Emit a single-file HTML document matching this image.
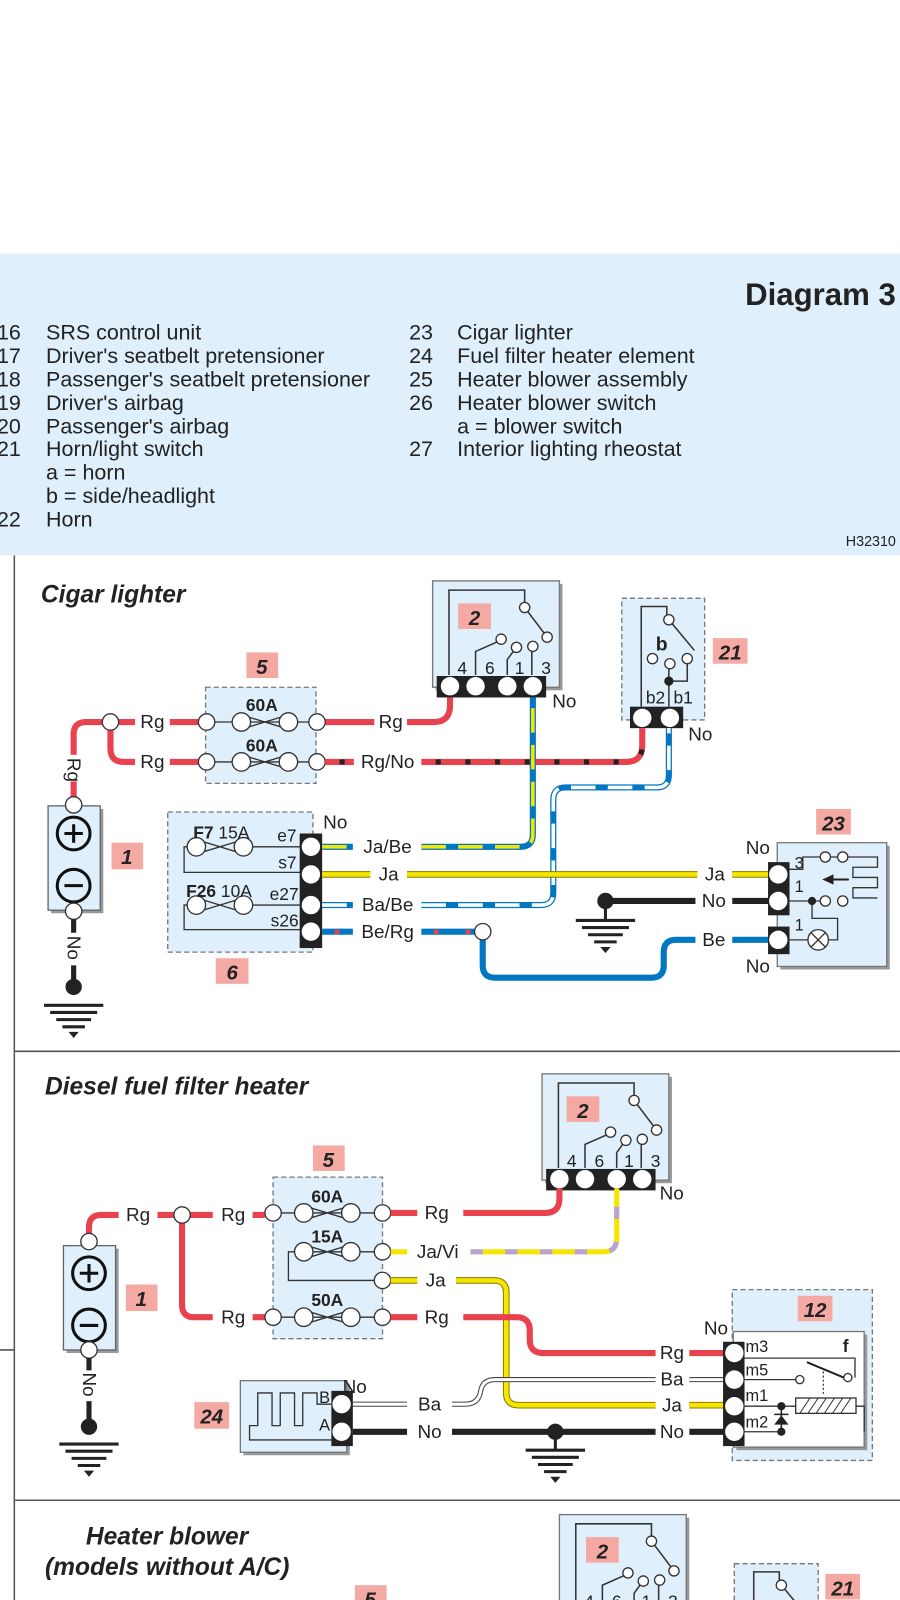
<!DOCTYPE html>
<html><head><meta charset="utf-8"><style>
html,body{margin:0;padding:0;background:#fff;}
svg{display:block;}
text{font-family:"Liberation Sans",sans-serif;fill:#222;}
.t{font-size:18.5px;}
.b{font-weight:bold;}
.pk{font-weight:bold;font-style:italic;font-size:20px;text-anchor:middle;}
.c{text-anchor:middle;}
.lg text{font-size:21px;}
</style></head><body>
<svg width="900" height="1600" viewBox="0 0 880 1564.5" xmlns="http://www.w3.org/2000/svg">
<defs>
<g id="fuse">
<path d="M0,-7 L46,7 M0,7 L46,-7" stroke="#333" stroke-width="1.3" fill="none"/>
<circle cx="0" cy="0" r="9" fill="#fff" stroke="#333" stroke-width="1.3"/>
<circle cx="46" cy="0" r="9" fill="#fff" stroke="#333" stroke-width="1.3"/>
</g>
<g id="gnd">
<path d="M-29,0 H29 M-23,7 H23 M-17,14 H17 M-11,21 H11" stroke="#222" stroke-width="3"/>
<path d="M-5,26 H5 L0,32 Z" fill="#222"/>
</g>
<g id="bat">
<rect x="3" y="3" width="51" height="102" fill="#999"/>
<rect x="0" y="0" width="51" height="102" fill="#dfeffb" stroke="#666" stroke-width="1.3"/>
<circle cx="25" cy="27" r="16" fill="none" stroke="#111" stroke-width="3"/>
<path d="M16,27 H34 M25,18 V36" stroke="#111" stroke-width="3"/>
<circle cx="25" cy="78" r="16" fill="none" stroke="#111" stroke-width="3"/>
<path d="M16,78 H34" stroke="#111" stroke-width="3"/>
</g>
<g id="relay">
<rect x="3" y="3" width="124" height="104" fill="#999"/>
<rect x="0" y="0" width="124" height="104" fill="#dfeffb" stroke="#777" stroke-width="1.3"/>
<path d="M16,92 V9 H90 V25 M90,26 L112,55 M42,92 V69 L67,58 M73,92 V77 L81,66 M97,92 V67" stroke="#333" stroke-width="1.5" fill="none"/>
<circle cx="90" cy="26" r="5" fill="#fff" stroke="#333" stroke-width="1.3"/>
<circle cx="112" cy="55" r="5" fill="#fff" stroke="#333" stroke-width="1.3"/>
<circle cx="67" cy="57" r="5" fill="#fff" stroke="#333" stroke-width="1.3"/>
<circle cx="82" cy="65" r="5" fill="#fff" stroke="#333" stroke-width="1.3"/>
<circle cx="98" cy="64" r="5" fill="#fff" stroke="#333" stroke-width="1.3"/>
<text x="29" y="91" font-size="17" class="c">4</text>
<text x="56" y="91" font-size="17" class="c">6</text>
<text x="85" y="91" font-size="17" class="c">1</text>
<text x="111" y="91" font-size="17" class="c">3</text>
<rect x="4" y="93" width="107" height="21" fill="#222"/>
<circle cx="17" cy="103" r="9" fill="#fff"/>
<circle cx="42" cy="103" r="9" fill="#fff"/>
<circle cx="73" cy="103" r="9" fill="#fff"/>
<circle cx="98" cy="103" r="9" fill="#fff"/>
</g>
</defs>

<rect x="0" y="248" width="880" height="295" fill="#dfeffb"/>
<text x="876" y="298" font-size="30.5" class="b" text-anchor="end">Diagram 3</text>
<g class="lg">
<text x="-3" y="332">16</text><text x="45" y="332">SRS control unit</text>
<text x="-3" y="355">17</text><text x="45" y="355">Driver's seatbelt pretensioner</text>
<text x="-3" y="378">18</text><text x="45" y="378">Passenger's seatbelt pretensioner</text>
<text x="-3" y="401">19</text><text x="45" y="401">Driver's airbag</text>
<text x="-3" y="424">20</text><text x="45" y="424">Passenger's airbag</text>
<text x="-3" y="446">21</text><text x="45" y="446">Horn/light switch</text>
<text x="45" y="469">a = horn</text>
<text x="45" y="492">b = side/headlight</text>
<text x="-3" y="515">22</text><text x="45" y="515">Horn</text>
<text x="400" y="332">23</text><text x="447" y="332">Cigar lighter</text>
<text x="400" y="355">24</text><text x="447" y="355">Fuel filter heater element</text>
<text x="400" y="378">25</text><text x="447" y="378">Heater blower assembly</text>
<text x="400" y="401">26</text><text x="447" y="401">Heater blower switch</text>
<text x="447" y="424">a = blower switch</text>
<text x="400" y="446">27</text><text x="447" y="446">Interior lighting rheostat</text>
</g>
<text x="876" y="534" font-size="14" text-anchor="end">H32310</text>

<path d="M14,543 V1565 M14,1028 H880 M14,1467 H880 M0,1320 H14" stroke="#555" stroke-width="1.5" fill="none"/>

<text x="40" y="589" font-size="24" class="b" font-style="italic">Cigar lighter</text>

<use href="#bat" x="47" y="788"/>
<rect x="109" y="824" width="31" height="26" fill="#f4aaa3"/><text x="124" y="845" class="pk">1</text>
<path d="M72,779 V764 M72,738 V718 Q72,706 84,706 H100" stroke="#e8424f" stroke-width="6" fill="none"/>
<text transform="translate(66,741) rotate(90)" class="t">Rg</text>
<circle cx="72" cy="787" r="8" fill="#fff" stroke="#333" stroke-width="1.3"/>
<circle cx="72" cy="891" r="8" fill="#fff" stroke="#333" stroke-width="1.3"/>
<path d="M72,899 V912 M72,944 V964" stroke="#222" stroke-width="5"/>
<text transform="translate(66,915) rotate(90)" class="t">No</text>
<circle cx="72" cy="965" r="8" fill="#222"/>
<use href="#gnd" x="72" y="983"/>

<rect x="201" y="672" width="108" height="94" fill="#dfeffb" stroke="#777" stroke-width="1.3" stroke-dasharray="5,3"/>
<rect x="241" y="638" width="31" height="25" fill="#f4aaa3"/><text x="256" y="659" class="pk">5</text>
<text x="256" y="695" font-size="17" class="b c">60A</text>
<text x="256" y="735" font-size="17" class="b c">60A</text>
<path d="M202,706 H310 M202,745 H310" stroke="#333" stroke-width="1.3"/>
<use href="#fuse" x="236" y="706"/><use href="#fuse" x="236" y="745"/>
<path d="M116,706 H132 M166,706 H194 M318,706 H366 M398,706 H424 Q440,706 440,690 V682" stroke="#e8424f" stroke-width="6" fill="none"/>
<path d="M108,714 V732 Q108,745 121,745 H132 M166,745 H194" stroke="#e8424f" stroke-width="6" fill="none"/>
<text x="149" y="712" class="t c">Rg</text><text x="149" y="751" class="t c">Rg</text>
<text x="382" y="712" class="t c">Rg</text>
<circle cx="108" cy="706" r="8" fill="#fff" stroke="#333" stroke-width="1.3"/>
<circle cx="202" cy="706" r="8" fill="#fff" stroke="#333" stroke-width="1.3"/>
<circle cx="310" cy="706" r="8" fill="#fff" stroke="#333" stroke-width="1.3"/>
<circle cx="202" cy="745" r="8" fill="#fff" stroke="#333" stroke-width="1.3"/>
<circle cx="310" cy="745" r="8" fill="#fff" stroke="#333" stroke-width="1.3"/>

<use href="#relay" x="423" y="568"/>
<rect x="448" y="590" width="32" height="25" fill="#f4aaa3"/><text x="464" y="611" class="pk">2</text>
<text x="540" y="692" class="t">No</text>

<rect x="608" y="585" width="81" height="119" fill="#dfeffb" stroke="#777" stroke-width="1.3" stroke-dasharray="5,3"/>
<path d="M627,691 V593 H652 V604 M654,606 L679,636 M654,691 V649 M654,666 H672 V646" stroke="#333" stroke-width="1.5" fill="none"/>
<circle cx="654" cy="606" r="5" fill="#fff" stroke="#333" stroke-width="1.3"/>
<circle cx="638" cy="644" r="5" fill="#fff" stroke="#333" stroke-width="1.3"/>
<circle cx="655" cy="649" r="5" fill="#fff" stroke="#333" stroke-width="1.3"/>
<circle cx="672" cy="644" r="5" fill="#fff" stroke="#333" stroke-width="1.3"/>
<circle cx="654" cy="666" r="4.5" fill="#222"/>
<text x="647" y="636" font-size="19" class="b c">b</text>
<text x="641" y="688" font-size="17" class="c">b2</text><text x="668" y="688" font-size="17" class="c">b1</text>
<rect x="616" y="691" width="52" height="21" fill="#222"/>
<circle cx="628" cy="702" r="9" fill="#fff"/><circle cx="655" cy="702" r="9" fill="#fff"/>
<text x="673" y="724" class="t">No</text>
<rect x="697" y="624" width="34" height="25" fill="#f4aaa3"/><text x="714" y="645" class="pk">21</text>

<path d="M318,745 H346 M412,745 H612 Q628,745 628,729 V712" stroke="#e8424f" stroke-width="6" fill="none"/>
<path d="M318,745 H346 M412,745 H612 Q628,745 628,729 V712" stroke="#222" stroke-width="5" stroke-dasharray="5,24" stroke-dashoffset="-14" fill="none"/>
<text x="379" y="751" class="t c">Rg/No</text>

<rect x="164" y="794" width="142" height="137" fill="#dfeffb" stroke="#777" stroke-width="1.3" stroke-dasharray="5,3"/>
<path d="M235,828 H294 M194,828 H180 V853 H294 M235,885 H294 M194,885 H180 V909 H294" stroke="#333" stroke-width="1.3" fill="none"/>
<use href="#fuse" x="192" y="828"/><use href="#fuse" x="192" y="885"/>
<text x="189" y="820" font-size="17"><tspan class="b">F7</tspan> 15A</text>
<text x="290" y="823" font-size="17" text-anchor="end">e7</text>
<text x="290" y="849" font-size="17" text-anchor="end">s7</text>
<text x="182" y="877" font-size="17"><tspan class="b">F26</tspan> 10A</text>
<text x="292" y="880" font-size="17" text-anchor="end">e27</text>
<text x="292" y="906" font-size="17" text-anchor="end">s26</text>
<rect x="293" y="815" width="22" height="112" fill="#222"/>
<circle cx="304" cy="828" r="9" fill="#fff"/><circle cx="304" cy="855" r="9" fill="#fff"/>
<circle cx="304" cy="885" r="9" fill="#fff"/><circle cx="304" cy="911" r="9" fill="#fff"/>
<text x="316" y="810" class="t">No</text>
<rect x="211" y="937" width="32" height="25" fill="#f4aaa3"/><text x="227" y="958" class="pk">6</text>

<path d="M315,828 H345 M412,828 H509 Q521,828 521,816 V682" stroke="#0077c0" stroke-width="6" fill="none"/>
<path d="M315,828 H345 M412,828 H509 Q521,828 521,816 V682" stroke="#f5e600" stroke-width="3.5" stroke-dasharray="24,12" fill="none"/>
<text x="379" y="834" class="t c">Ja/Be</text>
<path d="M315,885 H345 M412,885 H529 Q541,885 541,873 V782 Q541,770 553,770 H642 Q654,770 654,758 V712" stroke="#0077c0" stroke-width="6" fill="none"/>
<path d="M315,885 H345 M412,885 H529 Q541,885 541,873 V782 Q541,770 553,770 H642 Q654,770 654,758 V712" stroke="#fff" stroke-width="3.5" stroke-dasharray="24,12" fill="none"/>
<text x="379" y="891" class="t c">Ba/Be</text>
<path d="M315,855 H362 M398,855 H682 M716,855 H756" stroke="#8a7a00" stroke-width="6.5" fill="none"/>
<path d="M315,855 H362 M398,855 H682 M716,855 H756" stroke="#f5e600" stroke-width="4.5" fill="none"/>
<text x="380" y="861" class="t c">Ja</text><text x="699" y="861" class="t c">Ja</text>
<path d="M315,911 H345 M412,911 H464 M472,919 V944 Q472,956 484,956 H637 Q649,956 649,944 V931 Q649,919 661,919 H680 M716,919 H756" stroke="#0077c0" stroke-width="6" fill="none"/>
<path d="M315,911 H345 M412,911 H464" stroke="#e8424f" stroke-width="4" stroke-dasharray="5,26" stroke-dashoffset="-12" fill="none"/>
<text x="379" y="917" class="t c">Be/Rg</text><text x="698" y="925" class="t c">Be</text>
<circle cx="472" cy="911" r="8" fill="#fff" stroke="#333" stroke-width="1.3"/>
<path d="M592,881 H680 M716,881 H756" stroke="#222" stroke-width="6" fill="none"/>
<text x="698" y="887" class="t c">No</text>
<circle cx="592" cy="881" r="8" fill="#222"/><path d="M592,881 V900" stroke="#222" stroke-width="3"/>
<use href="#gnd" x="592" y="900"/>

<rect x="763" y="827" width="107" height="121" fill="#999"/>
<rect x="760" y="824" width="107" height="121" fill="#dfeffb" stroke="#777" stroke-width="1.3"/>
<path d="M772,850 H785 V838 H802 M812,838 H858 V848 H834 V858 H858 V868 H834 V878 H858 M772,881 H802 M794,881 V898 H819 V919 H810 M772,919 H790" stroke="#333" stroke-width="1.3" fill="none"/>
<path d="M812,860 H830" stroke="#222" stroke-width="2"/><path d="M804,860 L815,855 L815,865 Z" fill="#222"/>
<circle cx="807" cy="838" r="5" fill="#fff" stroke="#333" stroke-width="1.3"/>
<circle cx="824" cy="838" r="5" fill="#fff" stroke="#333" stroke-width="1.3"/>
<circle cx="807" cy="881" r="5" fill="#fff" stroke="#333" stroke-width="1.3"/>
<circle cx="824" cy="881" r="5" fill="#fff" stroke="#333" stroke-width="1.3"/>
<circle cx="794" cy="881" r="4" fill="#222"/>
<circle cx="800" cy="919" r="10" fill="#fff" stroke="#333" stroke-width="1.3"/>
<path d="M793,912 L807,926 M807,912 L793,926" stroke="#333" stroke-width="1.3"/>
<text x="777" y="849" font-size="16">3</text><text x="777" y="872" font-size="16">1</text><text x="777" y="910" font-size="16">1</text>
<rect x="751" y="843" width="21" height="52" fill="#222"/>
<rect x="751" y="906" width="21" height="27" fill="#222"/>
<circle cx="761" cy="855" r="9" fill="#fff"/><circle cx="761" cy="881" r="9" fill="#fff"/><circle cx="761" cy="919" r="9" fill="#fff"/>
<text x="741" y="835" class="t c">No</text><text x="741" y="951" class="t c">No</text>
<rect x="798" y="791" width="34" height="25" fill="#f4aaa3"/><text x="815" y="812" class="pk">23</text>

<text x="44" y="1070" font-size="24" class="b" font-style="italic">Diesel fuel filter heater</text>
<use href="#bat" x="62" y="1218"/>
<rect x="123" y="1256" width="31" height="26" fill="#f4aaa3"/><text x="138" y="1277" class="pk">1</text>
<path d="M87,1210 V1200 Q87,1188 99,1188 H116 M154,1188 H170 M186,1188 H208 M247,1188 H259" stroke="#e8424f" stroke-width="6" fill="none"/>
<path d="M178,1196 V1276 Q178,1288 190,1288 H208 M247,1288 H259" stroke="#e8424f" stroke-width="6" fill="none"/>
<text x="135" y="1194" class="t c">Rg</text><text x="228" y="1194" class="t c">Rg</text><text x="228" y="1294" class="t c">Rg</text>
<circle cx="87" cy="1214" r="8" fill="#fff" stroke="#333" stroke-width="1.3"/>
<circle cx="87" cy="1320" r="8" fill="#fff" stroke="#333" stroke-width="1.3"/>
<circle cx="178" cy="1188" r="8" fill="#fff" stroke="#333" stroke-width="1.3"/>
<path d="M87,1328 V1340 M87,1370 V1392" stroke="#222" stroke-width="5"/>
<text transform="translate(81,1342) rotate(90)" class="t">No</text>
<circle cx="87" cy="1395" r="8" fill="#222"/>
<use href="#gnd" x="87" y="1412"/>

<rect x="267" y="1151" width="107" height="158" fill="#dfeffb" stroke="#777" stroke-width="1.3" stroke-dasharray="5,3"/>
<rect x="306" y="1120" width="31" height="25" fill="#f4aaa3"/><text x="321" y="1141" class="pk">5</text>
<text x="320" y="1176" font-size="17" class="b c">60A</text>
<text x="320" y="1215" font-size="17" class="b c">15A</text>
<text x="320" y="1277" font-size="17" class="b c">50A</text>
<path d="M267,1186 H374 M297,1224 H374 M297,1224 H282 V1252 H374 M267,1288 H374" stroke="#333" stroke-width="1.3" fill="none"/>
<use href="#fuse" x="297" y="1186"/><use href="#fuse" x="297" y="1224"/><use href="#fuse" x="297" y="1288"/>
<circle cx="267" cy="1186" r="8" fill="#fff" stroke="#333" stroke-width="1.3"/>
<circle cx="374" cy="1186" r="8" fill="#fff" stroke="#333" stroke-width="1.3"/>
<circle cx="374" cy="1224" r="8" fill="#fff" stroke="#333" stroke-width="1.3"/>
<circle cx="374" cy="1252" r="8" fill="#fff" stroke="#333" stroke-width="1.3"/>
<circle cx="267" cy="1288" r="8" fill="#fff" stroke="#333" stroke-width="1.3"/>
<circle cx="374" cy="1288" r="8" fill="#fff" stroke="#333" stroke-width="1.3"/>

<use href="#relay" x="530" y="1050"/>
<rect x="554" y="1072" width="32" height="25" fill="#f4aaa3"/><text x="570" y="1093" class="pk">2</text>
<text x="645" y="1173" class="t">No</text>

<path d="M382,1186 H408 M453,1186 H533 Q547,1186 547,1172 V1162" stroke="#e8424f" stroke-width="6" fill="none"/>
<text x="427" y="1192" class="t c">Rg</text>
<path d="M382,1224 H398 M460,1224 H590 Q603,1224 603,1211 V1162" stroke="#f5e600" stroke-width="5" fill="none"/>
<path d="M460,1224 H590 Q603,1224 603,1211 V1162" stroke="#b9a3d3" stroke-width="5" stroke-dasharray="12,22" fill="none"/>
<text x="428" y="1230" class="t c">Ja/Vi</text>
<path d="M382,1252 H408 M446,1252 H483 Q495,1252 495,1264 V1362 Q495,1374 507,1374 H641 M674,1374 H710" stroke="#8a7a00" stroke-width="6.5" fill="none"/>
<path d="M382,1252 H408 M446,1252 H483 Q495,1252 495,1264 V1362 Q495,1374 507,1374 H641 M674,1374 H710" stroke="#f5e600" stroke-width="4.5" fill="none"/>
<text x="426" y="1258" class="t c">Ja</text><text x="657" y="1380" class="t c">Ja</text>
<path d="M382,1288 H408 M453,1288 H505 Q518,1288 518,1301 V1310 Q518,1323 531,1323 H641 M674,1323 H710" stroke="#e8424f" stroke-width="6" fill="none"/>
<text x="427" y="1294" class="t c">Rg</text><text x="657" y="1329" class="t c">Rg</text>
<path d="M345,1373 H398 M442,1373 H455 Q468,1373 470,1360 Q472,1349 484,1349 H641 M674,1349 H710" stroke="#444" stroke-width="5" fill="none"/>
<path d="M345,1373 H398 M442,1373 H455 Q468,1373 470,1360 Q472,1349 484,1349 H641 M674,1349 H710" stroke="#fff" stroke-width="3" fill="none"/>
<text x="420" y="1379" class="t c">Ba</text><text x="657" y="1355" class="t c">Ba</text>
<path d="M345,1400 H398 M442,1400 H641 M674,1400 H710" stroke="#222" stroke-width="6" fill="none"/>
<text x="420" y="1406" class="t c">No</text><text x="657" y="1406" class="t c">No</text>
<circle cx="543" cy="1400" r="8" fill="#222"/><path d="M543,1400 V1418" stroke="#222" stroke-width="3"/>
<use href="#gnd" x="543" y="1418"/>

<rect x="238" y="1353" width="104" height="70" fill="#999"/>
<rect x="235" y="1350" width="104" height="70" fill="#dfeffb" stroke="#777" stroke-width="1.3"/>
<path d="M326,1373 H310 V1362 H296 V1394 H288 V1362 H274 V1394 H266 V1362 H252 V1394 H244 V1408 H326" stroke="#333" stroke-width="1.3" fill="none"/>
<text x="312" y="1372" font-size="16">B</text><text x="312" y="1399" font-size="16">A</text>
<rect x="324" y="1360" width="21" height="54" fill="#222"/>
<circle cx="334" cy="1373" r="9" fill="#fff"/><circle cx="334" cy="1400" r="9" fill="#fff"/>
<text x="335" y="1362" class="t">No</text>
<rect x="190" y="1371" width="34" height="26" fill="#f4aaa3"/><text x="207" y="1392" class="pk">24</text>

<rect x="716" y="1261" width="137" height="167" fill="#dfeffb" stroke="#777" stroke-width="1.3" stroke-dasharray="5,3"/>
<rect x="720" y="1305" width="128" height="113" fill="#999"/>
<rect x="717" y="1302" width="128" height="113" fill="#fff" stroke="#777" stroke-width="1.3"/>
<path d="M728,1328 H836 V1347 M728,1349 H778 M728,1375 H778 M837,1375 H845 V1400 M728,1400 H764" stroke="#333" stroke-width="1.3" fill="none"/>
<path d="M789,1332 L825,1347" stroke="#222" stroke-width="2"/>
<path d="M805,1341 V1365" stroke="#333" stroke-width="1.2" stroke-dasharray="2,2"/>
<circle cx="782" cy="1349" r="4" fill="#fff" stroke="#333" stroke-width="1.3"/>
<circle cx="829" cy="1347" r="4" fill="#fff" stroke="#333" stroke-width="1.3"/>
<rect x="778" y="1367" width="59" height="15" fill="#fff" stroke="#333" stroke-width="1.3"/>
<path d="M782,1382 L792,1367 M790,1382 L800,1367 M798,1382 L808,1367 M806,1382 L816,1367 M814,1382 L824,1367 M822,1382 L832,1367" stroke="#333" stroke-width="1"/>
<circle cx="764" cy="1375" r="4" fill="#222"/><circle cx="764" cy="1400" r="4" fill="#222"/>
<path d="M764,1375 V1400 M757,1383 H771" stroke="#222" stroke-width="1.5"/>
<path d="M757,1393 L771,1393 L764,1384 Z" fill="#222"/>
<text x="729" y="1322" font-size="16">m3</text><text x="729" y="1345" font-size="16">m5</text>
<text x="729" y="1370" font-size="16">m1</text><text x="729" y="1396" font-size="16">m2</text>
<text x="824" y="1322" font-size="17" class="b">f</text>
<rect x="707" y="1312" width="21" height="102" fill="#222"/>
<circle cx="718" cy="1323" r="9" fill="#fff"/><circle cx="718" cy="1349" r="9" fill="#fff"/>
<circle cx="718" cy="1375" r="9" fill="#fff"/><circle cx="718" cy="1400" r="9" fill="#fff"/>
<text x="700" y="1305" class="t c">No</text>
<rect x="780" y="1267" width="34" height="25" fill="#f4aaa3"/><text x="797" y="1288" class="pk">12</text>

<text x="84" y="1510" font-size="24" class="b" font-style="italic">Heater blower</text>
<text x="44" y="1540" font-size="24" class="b" font-style="italic">(models without A/C)</text>
<use href="#relay" x="547" y="1481"/>
<rect x="573" y="1503" width="32" height="25" fill="#f4aaa3"/><text x="589" y="1524" class="pk">2</text>
<rect x="718" y="1529" width="82" height="60" fill="#dfeffb" stroke="#777" stroke-width="1.3" stroke-dasharray="5,3"/>
<path d="M737,1600 V1537 H762 V1548 M764,1550 L789,1580" stroke="#333" stroke-width="1.5" fill="none"/>
<circle cx="764" cy="1550" r="5" fill="#fff" stroke="#333" stroke-width="1.3"/>
<circle cx="748" cy="1588" r="5" fill="#fff" stroke="#333" stroke-width="1.3"/>
<circle cx="765" cy="1593" r="5" fill="#fff" stroke="#333" stroke-width="1.3"/>
<circle cx="782" cy="1588" r="5" fill="#fff" stroke="#333" stroke-width="1.3"/>
<text x="757" y="1579" font-size="19" class="b c">b</text>
<rect x="807" y="1539" width="34" height="25" fill="#f4aaa3"/><text x="824" y="1560" class="pk">21</text>
<rect x="347" y="1550" width="31" height="25" fill="#f4aaa3"/><text x="362" y="1571" class="pk">5</text>
</svg>
</body></html>
